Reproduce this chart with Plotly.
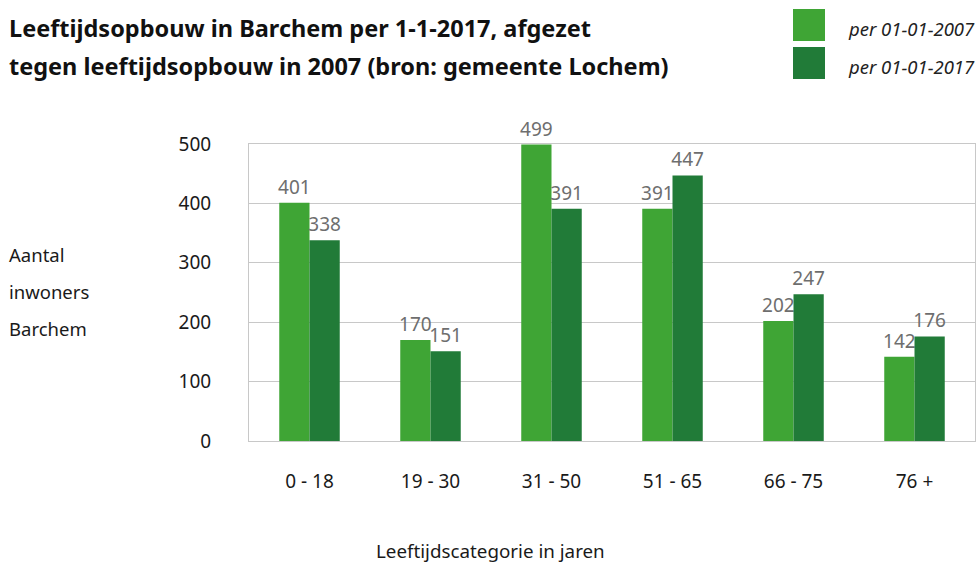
import plotly.graph_objects as go

categories = ["0 - 18", "19 - 30", "31 - 50", "51 - 65", "66 - 75", "76 +"]
values_2007 = [401, 170, 499, 391, 202, 142]
values_2017 = [338, 151, 391, 447, 247, 176]
series_names = ["per 01-01-2007", "per 01-01-2017"]
y_ticks = [0, 100, 200, 300, 400, 500]

C1 = "#3FA535"
C2 = "#217B38"
FONT = "Noto Sans"
W, H = 978, 563
L, R, T, B = 249, 3, 144, 122

fig = go.Figure()
for name, vals, col in [(series_names[0], values_2007, C1), (series_names[1], values_2017, C2)]:
    fig.add_trace(go.Bar(
        x=categories, y=vals, name=name, marker=dict(color=col, line=dict(width=0)),
        text=[str(v) for v in vals], textposition="outside", cliponaxis=False,
        constraintext="none",
        textfont=dict(family=FONT, size=19, color="#6E6E6E"),
        showlegend=False,
    ))

fig.update_layout(
    width=W, height=H, margin=dict(l=L, r=R, t=T, b=B),
    paper_bgcolor="white", plot_bgcolor="white",
    barmode="group", bargap=0.5, bargroupgap=0,
    font=dict(family=FONT, size=18, color="#1a1a1a"),
    xaxis=dict(showline=True, linecolor="#C8C8C8", linewidth=1, mirror=True,
               ticks="", tickfont=dict(size=19, color="#1a1a1a"), ticklabelstandoff=23,
               showgrid=False),
    yaxis=dict(range=[0, 500], tickvals=y_ticks, showgrid=True, gridcolor="#C8C8C8",
               gridwidth=1, showline=True, linecolor="#C8C8C8", mirror=True,
               ticks="", tickfont=dict(size=19, color="#1a1a1a"), ticklabelstandoff=33,
               zeroline=False),
)

def px_x(p):
    return (p - L) / (W - L - R)

def px_y(p):
    return (H - B - p) / (H - T - B)

# Title
for txt, yy in [("<b>Leeftijdsopbouw in Barchem per 1-1-2017, afgezet</b>", 28),
                ("<b>tegen leeftijdsopbouw in 2007 (bron: gemeente Lochem)</b>", 66)]:
    fig.add_annotation(text=txt, xref="paper", yref="paper", x=px_x(7), y=px_y(yy),
                       xanchor="left", yanchor="middle", showarrow=False,
                       font=dict(family=FONT, size=23.5, color="#111111"))

# Legend (drawn manually)
for i, (name, col) in enumerate([(series_names[0], C1), (series_names[1], C2)]):
    top = 9 + i * 38
    fig.add_shape(type="rect", xref="paper", yref="paper",
                  x0=px_x(793), x1=px_x(825), y0=px_y(top), y1=px_y(top + 32),
                  fillcolor=col, line=dict(width=0))
    fig.add_annotation(text="<i>" + name + "</i>", xref="paper", yref="paper",
                       x=px_x(846), y=px_y(top + 19), xanchor="left", yanchor="middle",
                       showarrow=False, font=dict(family=FONT, size=18.5, color="#222222"))

# Y-axis title lines
for i, line in enumerate(["Aantal", "inwoners", "Barchem"]):
    fig.add_annotation(text=line, xref="paper", yref="paper",
                       x=px_x(7), y=px_y(254 + 37 * i), xanchor="left", yanchor="middle",
                       showarrow=False, font=dict(family=FONT, size=18.5, color="#1a1a1a"))

# X-axis title
fig.add_annotation(text="Leeftijdscategorie in jaren", xref="paper", yref="paper",
                   x=px_x(490), y=px_y(551), xanchor="center", yanchor="middle",
                   showarrow=False, font=dict(family=FONT, size=18.8, color="#1a1a1a"))

fig.write_html("out.html", config={"displayModeBar": False},
               post_script="document.body.style.margin='0';document.body.style.overflow='hidden';")
